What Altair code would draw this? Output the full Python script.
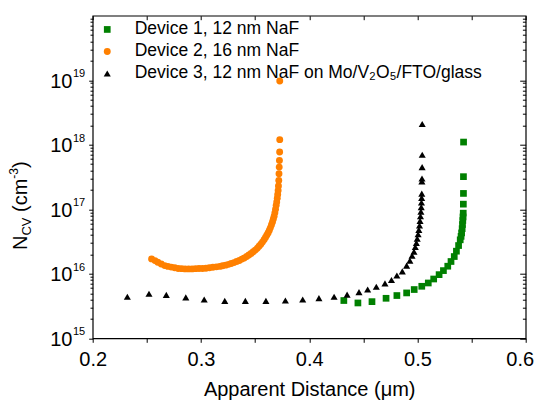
import altair as alt
import pandas as pd

# ---------------- data ----------------
series = [
    "Device 1, 12 nm NaF",
    "Device 2, 16 nm NaF",
    "Device 3, 12 nm NaF on Mo/V\u2082O\u2085/FTO/glass",
]
colors = ["#008000", "#FF8000", "#000000"]
shapes = ["square", "circle", "triangle-up"]

d1_x = [0.432, 0.445, 0.458, 0.471, 0.481, 0.490, 0.497, 0.504, 0.510, 0.515,
        0.520, 0.524, 0.528, 0.531, 0.534, 0.536, 0.538, 0.5395, 0.5403, 0.5408,
        0.5413, 0.5416, 0.5419, 0.5421, 0.5423, 0.5424, 0.5425, 0.5425, 0.5426]
d1_y = [3.85e15, 3.53e15, 3.7e15, 4.17e15, 4.6e15, 5.05e15, 5.7e15, 6.4e15, 7.2e15, 8.3e15,
        9.7e15, 1.12e16, 1.31e16, 1.55e16, 1.85e16, 2.24e16, 2.74e16, 3.36e16, 3.8e16, 4.3e16,
        5.0e16, 5.8e16, 6.7e16, 7.6e16, 8.7e16, 1.2e17, 1.76e17, 3.2e17, 1.1e18]

d2_x = [0.2544, 0.2575, 0.2601, 0.2633, 0.2665, 0.2695, 0.2726, 0.2758, 0.2790, 0.2822,
        0.2854, 0.2886, 0.2918, 0.2950, 0.2982, 0.3014, 0.3046, 0.3078, 0.3110, 0.3142,
        0.3174, 0.3200, 0.3228, 0.3255, 0.3280, 0.3305, 0.3330, 0.3355, 0.3378, 0.3400,
        0.3422, 0.3443, 0.3463, 0.3483, 0.3502, 0.3520, 0.3537, 0.3553, 0.3568, 0.3583,
        0.3596, 0.3608, 0.3620, 0.3631, 0.3641, 0.3651, 0.3660, 0.3668, 0.3676, 0.3683,
        0.3689, 0.3695, 0.3700, 0.3705, 0.3709, 0.3713, 0.3716, 0.3719, 0.3721, 0.3723,
        0.3725, 0.3727, 0.3728, 0.3728]
d2_y = [1.70e16, 1.60e16, 1.51e16, 1.42e16, 1.34e16, 1.30e16, 1.27e16, 1.24e16, 1.21e16, 1.20e16,
        1.19e16, 1.19e16, 1.19e16, 1.20e16, 1.21e16, 1.21e16, 1.22e16, 1.24e16, 1.26e16, 1.28e16,
        1.30e16, 1.33e16, 1.36e16, 1.40e16, 1.44e16, 1.49e16, 1.55e16, 1.61e16, 1.69e16, 1.76e16,
        1.85e16, 1.95e16, 2.06e16, 2.19e16, 2.33e16, 2.49e16, 2.67e16, 2.88e16, 3.10e16, 3.38e16,
        3.66e16, 3.95e16, 4.30e16, 4.69e16, 5.15e16, 5.70e16, 6.30e16, 7.00e16, 7.80e16, 8.80e16,
        1.00e17, 1.15e17, 1.30e17, 1.48e17, 1.70e17, 1.96e17, 2.30e17, 2.80e17, 3.55e17, 4.5e17,
        5.7e17, 7.7e17, 1.2e18, 9.75e18]

d3_x = [0.232, 0.252, 0.268, 0.286, 0.303, 0.322, 0.341, 0.360, 0.378, 0.394,
        0.409, 0.423, 0.435, 0.446, 0.454, 0.462, 0.470, 0.476, 0.481, 0.486,
        0.490, 0.493, 0.495, 0.4968, 0.4980, 0.4990, 0.4998, 0.5006, 0.5013, 0.5019,
        0.5024, 0.5028, 0.5032, 0.5035, 0.5037, 0.5039, 0.5040, 0.5041, 0.5042, 0.5043,
        0.5044, 0.5044]
d3_y = [4.4e15, 4.9e15, 4.7e15, 4.3e15, 4.0e15, 3.8e15, 3.8e15, 3.8e15, 3.85e15, 4.0e15,
        4.2e15, 4.4e15, 4.75e15, 5.2e15, 5.7e15, 6.3e15, 7.1e15, 8.0e15, 9.4e15, 1.09e16,
        1.34e16, 1.6e16, 1.9e16, 2.2e16, 2.6e16, 3.0e16, 3.5e16, 4.1e16, 4.8e16, 5.6e16,
        6.6e16, 7.8e16, 9.2e16, 1.08e17, 1.27e17, 1.5e17, 1.75e17, 2.7e17, 3.0e17, 4.5e17,
        7.0e17, 2.1e18]

x_ticks = [0.2, 0.25, 0.3, 0.35, 0.4, 0.45, 0.5, 0.55, 0.6]
y_major = [1e15, 1e16, 1e17, 1e18, 1e19]
y_exp = ["15", "16", "17", "18", "19"]
y_minor = [m * 10 ** e for e in range(15, 20) for m in range(2, 10)]

# ---------------- build table ----------------
frames = []
for name, xs, ys in [(series[0], d1_x, d1_y), (series[1], d2_x, d2_y), (series[2], d3_x, d3_y)]:
    frames.append(pd.DataFrame({"x": xs, "y": ys, "series": name}))
df = pd.concat(frames, ignore_index=True)
exp_df = pd.DataFrame({"y": y_major, "t": y_exp})

FONT = "Liberation Sans"
xscale = alt.Scale(domain=[0.2, 0.6], nice=False, zero=False)
yscale = alt.Scale(type="log", domain=[1e15, 1e20], nice=False)

leg = alt.Legend(title=None, orient="none", legendX=5.8, legendY=5, symbolSize=32,
                 labelFontSize=17.5, labelFont=FONT, labelColor="black", labelOffset=18.7,
                 rowPadding=3, padding=0, symbolStrokeWidth=0, labelLimit=600)

base = alt.Chart(df)

points = base.mark_point(filled=True, opacity=1, strokeWidth=0).encode(
    x=alt.X("x:Q", scale=xscale, axis=alt.Axis(
        orient="bottom", values=x_ticks,
        labelExpr="round(datum.value*20) % 2 == 0 ? format(datum.value, '.1f') : ''",
        labelOffset={"condition": {"test": "datum.value > 0.59", "value": -6}, "value": 0},
        tickSize=4, labelPadding=7, labelFontSize=20, labelFlush=False, domain=False,
        grid=False, title="Apparent Distance (\u03bcm)", titleFontSize=20, titleY=56.7,
        titleBaseline="alphabetic")),
    y=alt.Y("y:Q", scale=yscale, axis=alt.Axis(
        orient="left", values=y_major, labelExpr="'10'", tickSize=4, labelPadding=16.7,
        labelFontSize=20, labelOffset=1, labelFlush=False, domain=False, grid=False,
        title=None)),
    color=alt.Color("series:N", scale=alt.Scale(domain=series, range=colors), legend=leg),
    shape=alt.Shape("series:N", scale=alt.Scale(domain=series, range=shapes), legend=leg),
    size=alt.Size("series:N", scale=alt.Scale(domain=series, range=[45, 50, 60]), legend=None),
)

aux1 = base.mark_point(opacity=0).encode(
    x=alt.X("x:Q", scale=xscale, axis=alt.Axis(orient="top", values=x_ticks, labels=False,
                                                tickSize=4, offset=-4, domain=False,
                                                grid=False, title=None)),
    y=alt.Y("y:Q", scale=yscale, axis=alt.Axis(orient="left", values=y_minor, labels=False,
                                                tickSize=2.7, domain=False, grid=False,
                                                title=None)),
)
aux2 = base.mark_point(opacity=0).encode(
    x=alt.X("x:Q", scale=xscale, axis=None),
    y=alt.Y("y:Q", scale=yscale, axis=alt.Axis(orient="right", values=y_major, labels=False,
                                                tickSize=6, offset=-6, domain=False,
                                                grid=False, title=None)),
)
aux3 = base.mark_point(opacity=0).encode(
    x=alt.X("x:Q", scale=xscale, axis=None),
    y=alt.Y("y:Q", scale=yscale, axis=alt.Axis(orient="right", values=y_minor, labels=False,
                                                tickSize=3.3, offset=-3.3, domain=False,
                                                grid=False, title=None)),
)

exps = alt.Chart(exp_df).mark_text(font=FONT, fontSize=11, align="left",
                                   baseline="alphabetic", dy=-3, color="black").encode(
    x=alt.value(-19.7),
    y=alt.Y("y:Q", scale=yscale, axis=None),
    text="t:N",
)

one = pd.DataFrame({"k": [0]})


def ytitle(txt, size, px, py):
    return alt.Chart(one).mark_text(text=txt, font=FONT, fontSize=size, angle=270,
                                    align="left", baseline="alphabetic",
                                    color="black").encode(x=alt.value(px), y=alt.value(py))


t1 = ytitle("N", 20, -66, 234.3)
t2 = ytitle("CV", 13, -61.5, 219.9)
t3 = ytitle("(cm", 20, -66, 196.3)
t4 = ytitle("-3", 12, -75, 163.0)
t5 = ytitle(")", 20, -66, 152.3)

chart = alt.layer(points, aux1, aux2, aux3, exps, t1, t2, t3, t4, t5).resolve_axis(
    x="independent", y="independent"
).properties(
    width=433, height=322.6, autosize="none",
    padding={"left": 84.7, "top": 7.7, "right": 9.3, "bottom": 63.7},
).configure_view(stroke="black", strokeWidth=1.2).configure_axis(
    labelFont=FONT, titleFont=FONT, labelColor="black", titleColor="black",
    tickColor="black", tickWidth=1, titleFontWeight="normal"
)

chart.save("out.html", embed_options={"renderer": "svg", "actions": False})
